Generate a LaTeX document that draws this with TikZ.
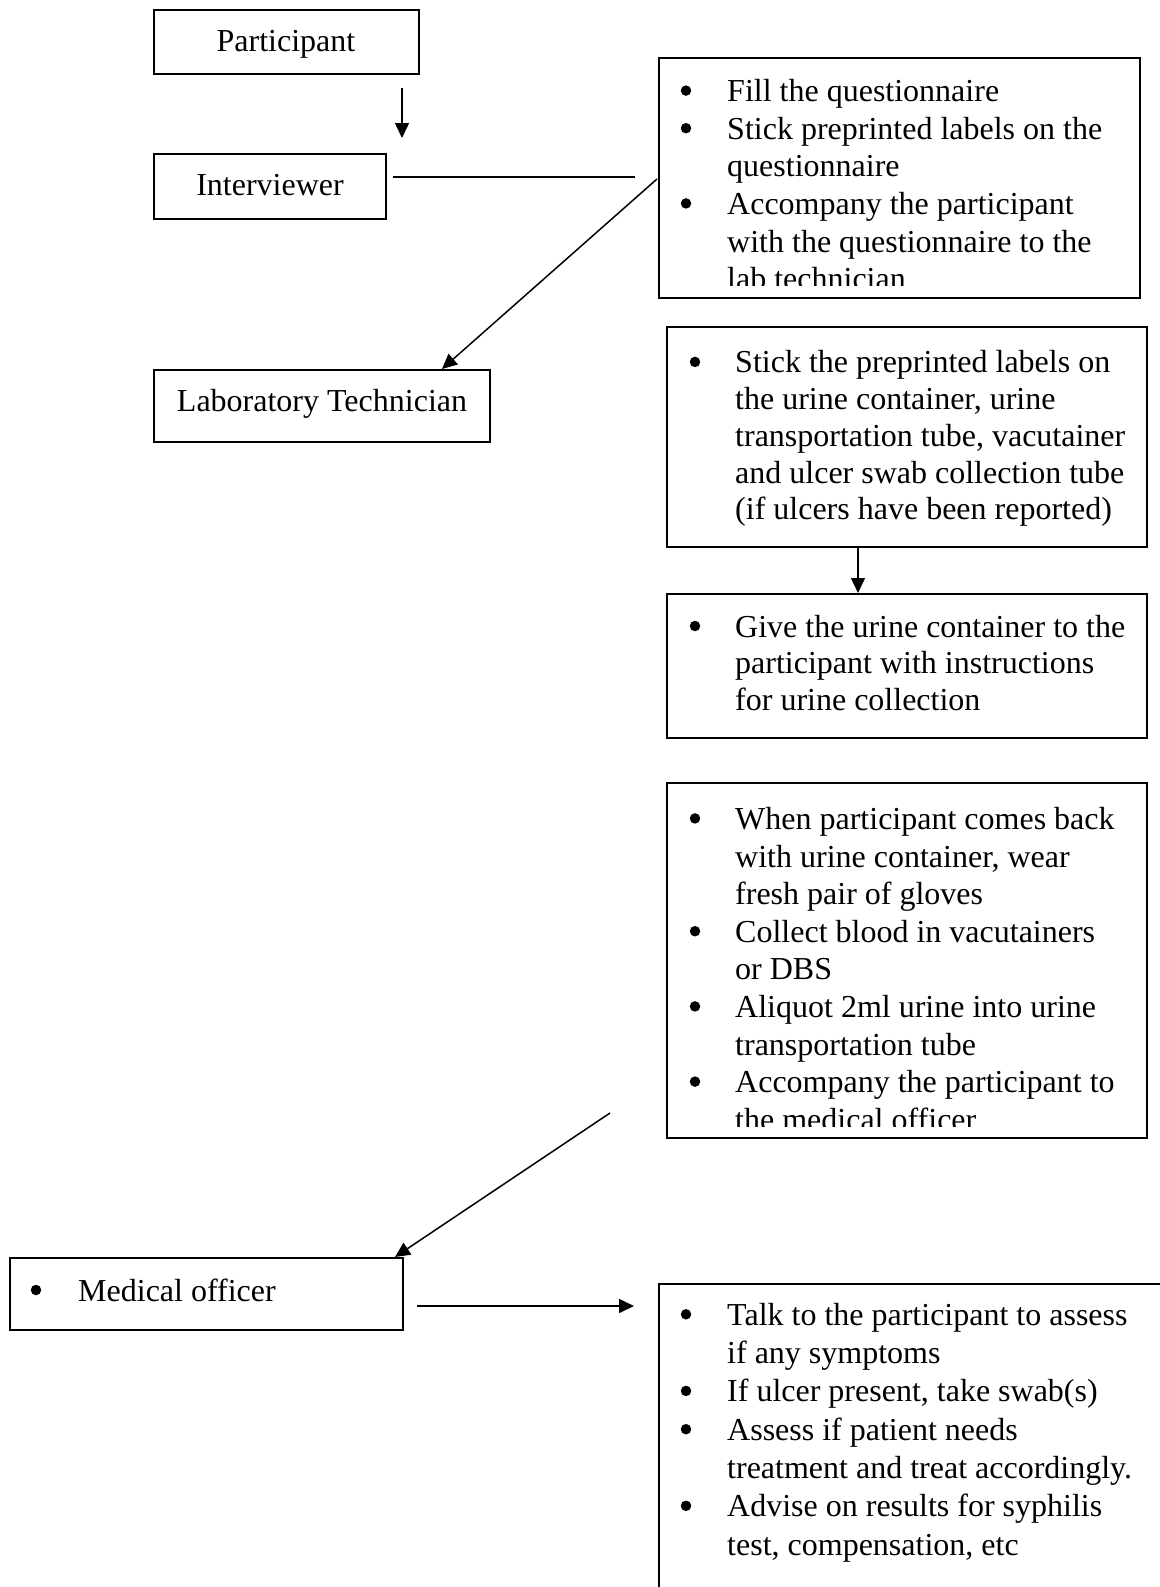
\documentclass[tikz,border=0pt]{standalone}
\usepackage{fontspec}
\setmainfont{Liberation Serif}
\usetikzlibrary{arrows.meta}

\begin{document}
\begin{tikzpicture}[x=1pt,y=-1pt,
  box/.style={draw, line width=1.7pt, inner sep=0pt, anchor=north west},
  body/.style={anchor=base west, inner sep=0pt, align=left,
    font=\fontsize{32}{#1}\selectfont},
  body/.default=37.6,
  title/.style={anchor=base, inner sep=0pt, font=\fontsize{32}{37.6}\selectfont},
  dot/.style={circle, fill, inner sep=0pt, minimum size=10.5pt},
  conn/.style={line width=1.5pt},
  arr/.style={conn, -{Triangle[length=15pt,width=14pt]}},
]
\useasboundingbox (0,0) rectangle (1159,1587);

% Multi-line text nodes are placed by the baseline of their last line;
% bullets sit 11pt above the baseline of an item's first line.

% ---- left column: roles ----
\node[box, minimum width=265pt, minimum height=64pt] (participant) at (153,9) {};
\node[title] (participantT) at (286,52) {Participant};

\node[box, minimum width=232pt, minimum height=65pt] (interviewer) at (153,153) {};
\node[title] (interviewerT) at (270,195.5) {Interviewer};

\node[box, minimum width=336pt, minimum height=72pt] (lab) at (153,369) {};
\node[title] (labT) at (322,411) {Laboratory Technician};

\node[box, minimum width=393pt, minimum height=72pt] (medical) at (9,1257) {};
\node[dot] (medicalB) at (36,1290) {};
\node[body, anchor=base west] (medicalT) at (78,1301) {Medical officer};

% ---- right column: tasks ----
% interviewer tasks
\node[box, minimum width=481pt, minimum height=240pt] (taskA) at (658,57) {};
\begin{scope}
  \clip (658,57) rectangle (1139,285.5);
  \node[dot]  (a1b) at (686,90.6) {};
  \node[body] (a1)  at (727,101.6) {Fill the questionnaire};
  \node[dot]  (a2b) at (686,128.2) {};
  \node[body] (a2)  at (727,176.8) {Stick preprinted labels on the\\questionnaire};
  \node[dot]  (a3b) at (686,203.4) {};
  \node[body] (a3)  at (727,289.6) {Accompany the participant\\with the questionnaire to the\\lab technician};
\end{scope}

% labelling
\node[box, minimum width=480pt, minimum height=220pt] (taskB) at (666,326) {};
\node[dot]       (b1b) at (695,361.9) {};
\node[body=36.7] (b1)  at (735,519.7) {Stick the preprinted labels on\\the urine container, urine\\transportation tube, vacutainer\\and ulcer swab collection tube\\(if ulcers have been reported)};

% urine container
\node[box, minimum width=480pt, minimum height=144pt] (taskC) at (666,593) {};
\node[dot]       (c1b) at (695,626) {};
\node[body=36.9] (c1)  at (735,710.8) {Give the urine container to the\\participant with instructions\\for urine collection};

% sample collection
\node[box, minimum width=480pt, minimum height=355pt] (taskD) at (666,782) {};
\begin{scope}
  \clip (666,782) rectangle (1146,1126.5);
  \node[dot]  (d1b) at (695,818.4) {};
  \node[body] (d1)  at (735,904.6) {When participant comes back\\with urine container, wear\\fresh pair of gloves};
  \node[dot]  (d2b) at (695,931.2) {};
  \node[body] (d2)  at (735,979.8) {Collect blood in vacutainers\\or DBS};
  \node[dot]  (d3b) at (695,1006.4) {};
  \node[body] (d3)  at (735,1055) {Aliquot 2ml urine into urine\\transportation tube};
  \node[dot]  (d4b) at (695,1081.6) {};
  \node[body] (d4)  at (735,1130.2) {Accompany the participant to\\the medical officer};
\end{scope}

% medical officer tasks (box runs off the page)
\node[box, minimum width=600pt, minimum height=400pt] (taskE) at (658,1283) {};
\node[dot]       (e1b) at (686,1314.3) {};
\node[body=38.3] (e1)  at (727,1363.6) {Talk to the participant to assess\\if any symptoms};
\node[dot]       (e2b) at (686,1390.9) {};
\node[body=38.3] (e2)  at (727,1401.9) {If ulcer present, take swab(s)};
\node[dot]       (e3b) at (686,1429.2) {};
\node[body=38.3] (e3)  at (727,1478.5) {Assess if patient needs\\treatment and treat accordingly.};
\node[dot]       (e4b) at (686,1505.8) {};
\node[body=38.3] (e4)  at (727,1555.1) {Advise on results for syphilis\\test, compensation, etc};

% ---- connectors ----
\coordinate (p1) at (402,88);
\coordinate (p2) at (402,138);
\draw[arr] (p1) -- (p2);

\coordinate (i1) at (393,177);
\coordinate (i2) at (635,177);
\draw[conn] (i1) -- (i2);

\coordinate (l1) at (657,179);
\coordinate (l2) at (442,369);
\draw[arr] (l1) -- (l2);

\draw[arr] (taskB.south -| 858,0) -- (taskC.north -| 858,0);

\coordinate (m1) at (610,1113);
\coordinate (m2) at (395,1257);
\draw[arr] (m1) -- (m2);

\coordinate (o1) at (417,1306);
\coordinate (o2) at (634,1306);
\draw[arr] (o1) -- (o2);
\end{tikzpicture}
\end{document}
